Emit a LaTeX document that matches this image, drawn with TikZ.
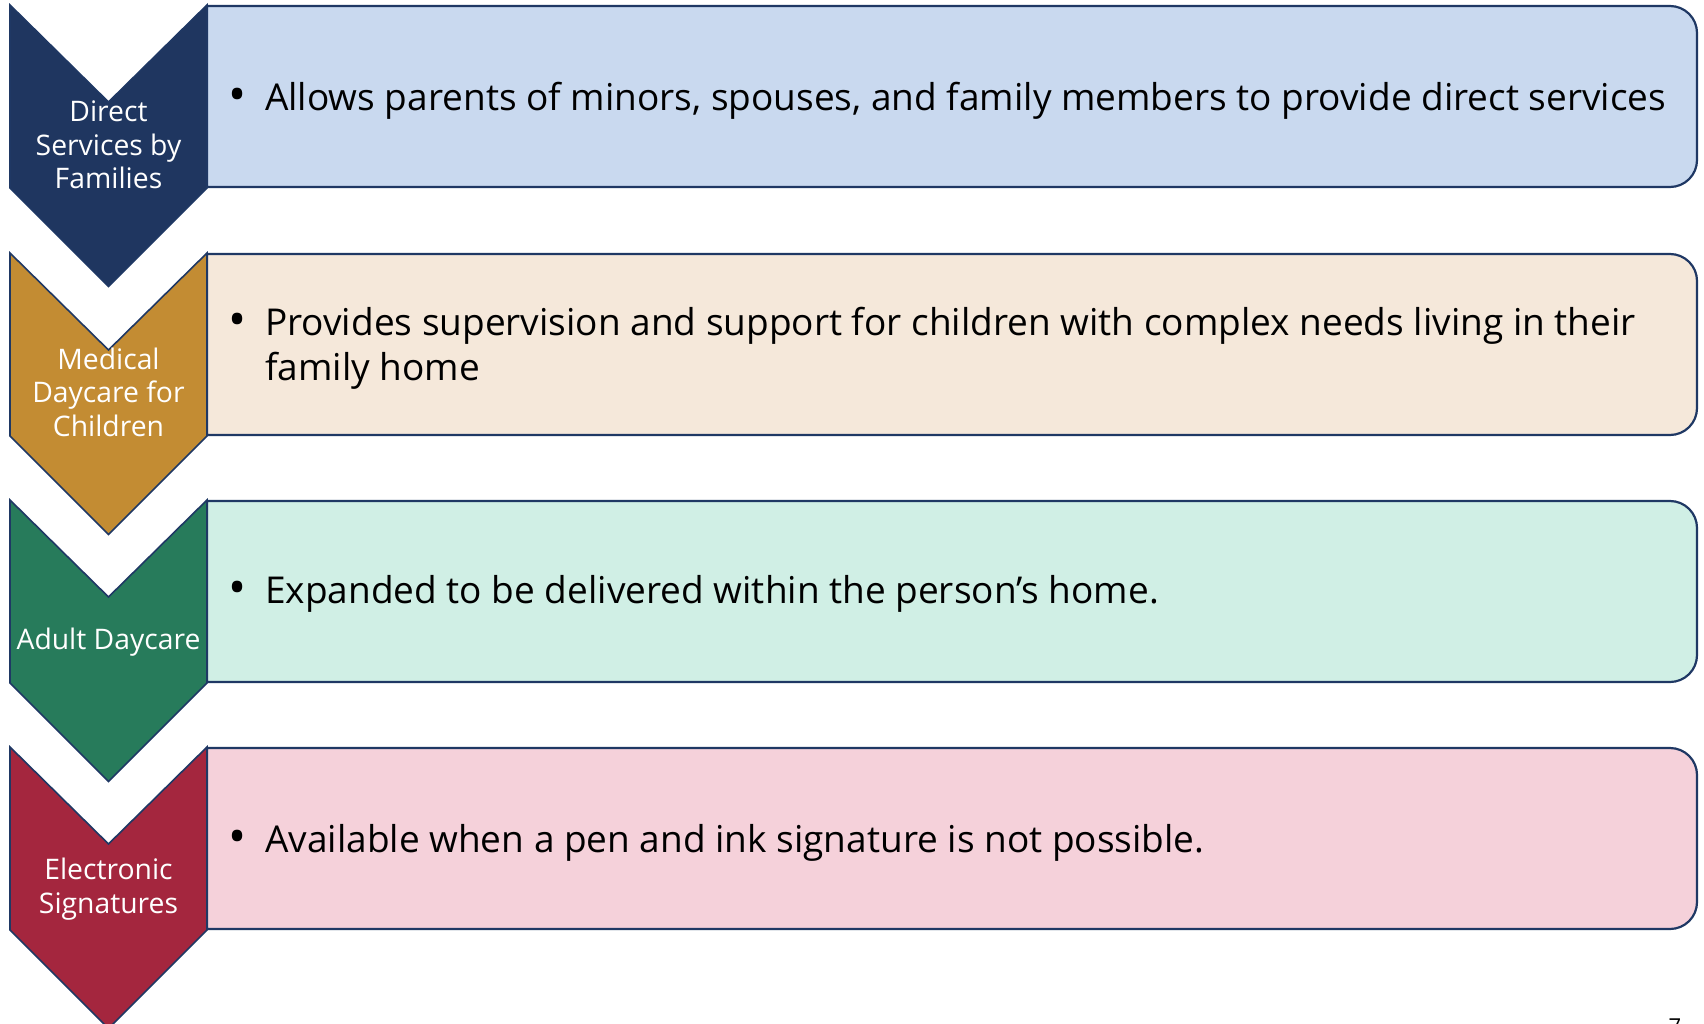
\documentclass[tikz,border=0pt]{standalone}
\usepackage{fontspec}
\setmainfont{Open Sans}
\definecolor{navy}{HTML}{1F3660}
\definecolor{gold}{HTML}{C38C33}
\definecolor{green}{HTML}{277B5B}
\definecolor{crim}{HTML}{A4263E}
\definecolor{fblue}{HTML}{C9D9EF}
\definecolor{fbeige}{HTML}{F5E8DA}
\definecolor{fmint}{HTML}{D0EFE5}
\definecolor{fpink}{HTML}{F5D1DA}
\definecolor{edge}{HTML}{1F3864}
\tikzset{
  chev/.style={draw=edge, line width=1.6pt, line join=miter},
  panel/.style={draw=edge, line width=2.2pt},
  lbl/.style={text=white, align=center, inner sep=0pt, font=\fontsize{28.3}{33.5}\selectfont},
  itm/.style={anchor=west, align=left, inner sep=0pt, font=\fontsize{37}{45.5}\selectfont},
  bul/.style={anchor=center, inner sep=0pt, font=\fontsize{48}{45}\selectfont},
}
\begin{document}
\begin{tikzpicture}[x=1pt,y=-1pt]
\useasboundingbox (0,0) rectangle (1704,1024);
\clip (0,0) rectangle (1704,1024);
\fill[white] (0,0) rectangle (1704,1024);
% rows
\foreach \T/\cc/\ff in {5/navy/fblue, 253/gold/fbeige, 500/green/fmint, 747/crim/fpink}{
  \path[panel, fill=\ff] (207,\T+1) -- (1670,\T+1) arc[start angle=90, end angle=0, radius=27pt]
     -- (1697,\T+155) arc[start angle=0, end angle=-90, radius=27pt] -- (207,\T+182) -- cycle;
  \path[chev, fill=\cc] (10,\T) -- (108.5,\T+97) -- (207,\T) -- (207,\T+183) -- (108.5,\T+281.5) -- (10,\T+183) -- cycle;
}
% labels
\node[lbl] (l1) at (108.5,145) {Direct\\Services by\\Families};
\node[lbl] (l2) at (108.5,392) {Medical\\Daycare for\\Children};
\node[lbl] (l3) at (108.5,642) {Adult Daycare};
\node[lbl] (l4) at (108.5,889) {Electronic\\Signatures};
% bullets
\node[bul] (b1) at (238,100) {\textbullet};
\node[itm] (t1) at (265,101) {Allows parents of minors, spouses, and family members to provide direct services};
\node[bul] (b2) at (238,325) {\textbullet};
\node[itm] (t2) at (265,348.5) {Provides supervision and support for children with complex needs living in their\\family home};
\node[bul] (b3) at (238,593) {\textbullet};
\node[itm] (t3) at (265,594) {Expanded to be delivered within the person’s home.};
\node[bul] (b4) at (238,842) {\textbullet};
\node[itm] (t4) at (265,843) {Available when a pen and ink signature is not possible.};
% page number
\node[inner sep=0pt, font=\fontsize{22}{26}\selectfont] (pg) at (1675,1027) {7};
\end{tikzpicture}
\end{document}
